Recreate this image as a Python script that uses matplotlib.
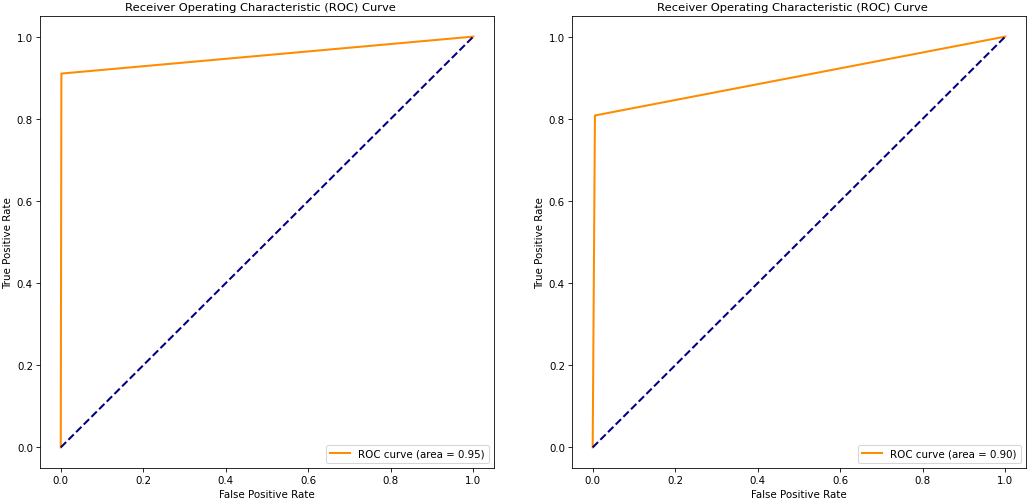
import numpy as np
import matplotlib
matplotlib.use("Agg")
import matplotlib.pyplot as plt

# ROC points
fpr_a = [0.0, 0.0015, 1.0]
tpr_a = [0.0, 0.91, 1.0]
auc_a = 0.95

fpr_b = [0.0, 0.0055, 1.0]
tpr_b = [0.0, 0.808, 1.0]
auc_b = 0.90

fig, axes = plt.subplots(1, 2, figsize=(14, 6.816), dpi=73.5)
fig.subplots_adjust(left=0.039, right=0.997, bottom=0.064, top=0.966, wspace=0.172)

for ax, fpr, tpr, auc in [(axes[0], fpr_a, tpr_a, auc_a), (axes[1], fpr_b, tpr_b, auc_b)]:
    ax.plot(fpr, tpr, color='darkorange', lw=2, label='ROC curve (area = %0.2f)' % auc)
    ax.plot([0, 1], [0, 1], color='navy', lw=2, linestyle='--')
    ax.set_xlabel('False Positive Rate')
    ax.set_ylabel('True Positive Rate')
    ax.set_title('Receiver Operating Characteristic (ROC) Curve', fontsize=11.3, x=0.485)
    ax.legend(loc='lower right')

fig.savefig('out.png', dpi=73.5)
